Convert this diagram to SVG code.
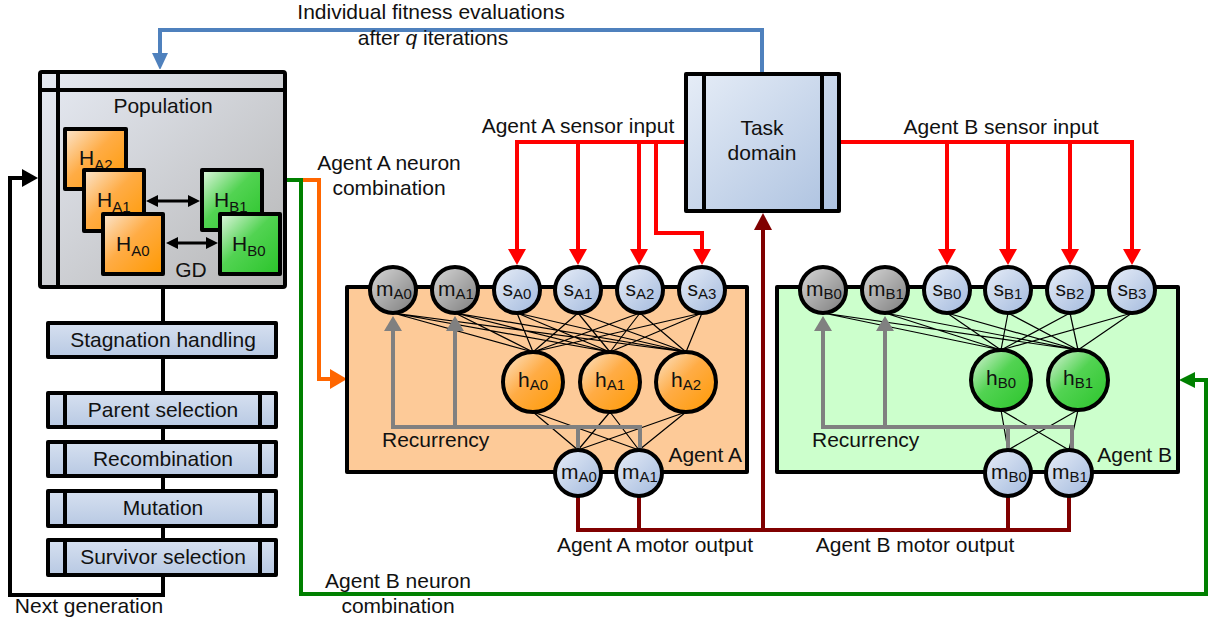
<svg xmlns="http://www.w3.org/2000/svg" width="1211" height="623" viewBox="0 0 1211 623">
<defs>
<style>
text{font-family:"Liberation Sans",Arial,sans-serif;font-size:21px;fill:#111}
.sub{font-size:15px}
.box{stroke:#000;stroke-width:4;stroke-linejoin:round}
.div{stroke:#000;stroke-width:4}
.node{stroke:#000;stroke-width:4}
.w{stroke:#000;stroke-width:1.2;fill:none}
.red{stroke:#ff0000;stroke-width:4;fill:none}
.dred{stroke:#800000;stroke-width:4;fill:none}
.gray{stroke:#808080;stroke-width:4;fill:none}
.blk{stroke:#000;stroke-width:4;fill:none}
.blue{stroke:#4f81bd;stroke-width:4;fill:none}
.grn{stroke:#008000;stroke-width:4;fill:none}
.org{stroke:#ff6600;stroke-width:4;fill:none}
.c{text-anchor:middle}
</style>
<linearGradient id="gPop" x1="0" y1="0" x2="1" y2="1"><stop offset="0" stop-color="#e6eaf3"/><stop offset="1" stop-color="#b6b6b6"/></linearGradient>
<linearGradient id="gBlue" x1="0" y1="0" x2="1" y2="1"><stop offset="0" stop-color="#e6edf7"/><stop offset="1" stop-color="#adc2e0"/></linearGradient>
<linearGradient id="gProc" x1="0" y1="0" x2="0" y2="1"><stop offset="0" stop-color="#d6e0f0"/><stop offset="1" stop-color="#b8c9e3"/></linearGradient>
<linearGradient id="gOr" x1="0" y1="0" x2="1" y2="1"><stop offset="0" stop-color="#fbe6cf"/><stop offset="0.45" stop-color="#ffac45"/><stop offset="1" stop-color="#ff9900"/></linearGradient>
<linearGradient id="gGr" x1="0" y1="0" x2="1" y2="1"><stop offset="0" stop-color="#e2f6e2"/><stop offset="0.45" stop-color="#52d352"/><stop offset="1" stop-color="#2ac42a"/></linearGradient>
<linearGradient id="gGray" x1="0" y1="0" x2="1" y2="1"><stop offset="0" stop-color="#d8d8d8"/><stop offset="1" stop-color="#7c7c7c"/></linearGradient>
<linearGradient id="gLb" x1="0" y1="0" x2="1" y2="1"><stop offset="0" stop-color="#e8eef8"/><stop offset="1" stop-color="#a2b9dd"/></linearGradient>
<marker id="aRed" markerUnits="userSpaceOnUse" markerWidth="18" markerHeight="18" refX="0" refY="9" orient="auto"><path d="M0,0 L16,9 L0,18 z" fill="#ff0000"/></marker>
<marker id="aDred" markerUnits="userSpaceOnUse" markerWidth="18" markerHeight="18" refX="0" refY="9" orient="auto"><path d="M0,0 L17,9 L0,18 z" fill="#800000"/></marker>
<marker id="aGray" markerUnits="userSpaceOnUse" markerWidth="18" markerHeight="18" refX="0" refY="9" orient="auto"><path d="M0,0 L15,9 L0,18 z" fill="#808080"/></marker>
<marker id="aBlk" markerUnits="userSpaceOnUse" markerWidth="18" markerHeight="18" refX="0" refY="9" orient="auto"><path d="M0,0 L16,9 L0,18 z" fill="#000"/></marker>
<marker id="aBlue" markerUnits="userSpaceOnUse" markerWidth="16" markerHeight="16" refX="0" refY="8" orient="auto"><path d="M0,0 L17,8 L0,16 z" fill="#4f81bd"/></marker>
<marker id="aGrn" markerUnits="userSpaceOnUse" markerWidth="16" markerHeight="16" refX="0" refY="8" orient="auto"><path d="M0,0 L16,8 L0,16 z" fill="#008000"/></marker>
<marker id="aOrg" markerUnits="userSpaceOnUse" markerWidth="20" markerHeight="20" refX="0" refY="10" orient="auto"><path d="M0,0 L17,10 L0,20 z" fill="#ff6600"/></marker>
<marker id="aSm" markerUnits="userSpaceOnUse" markerWidth="12" markerHeight="12" refX="0" refY="6" orient="auto-start-reverse"><path d="M0,0 L12,6 L0,12 z" fill="#000"/></marker>
</defs>
<rect width="1211" height="623" fill="#fff"/>

<g id="connectors">
<path class="blue" d="M762,72 V30 H160 V53" marker-end="url(#aBlue)"/>
<path class="org" d="M287,180 H319 V379 H330" marker-end="url(#aOrg)"/>
<path class="grn" d="M287,180 H301 V594 H1206 V380 H1195" marker-end="url(#aGrn)"/>
<path class="blk" d="M163,289 V595 H10 V178 H22" marker-end="url(#aBlk)"/>
<path class="red" d="M684,142 H517 V249" marker-end="url(#aRed)"/>
<path class="red" d="M578,142 V249" marker-end="url(#aRed)"/>
<path class="red" d="M639,142 V249" marker-end="url(#aRed)"/>
<path class="red" d="M656,142 V233 H702 V249" marker-end="url(#aRed)"/>
<path class="red" d="M841,142 H1132 V249" marker-end="url(#aRed)"/>
<path class="red" d="M947,142 V249" marker-end="url(#aRed)"/>
<path class="red" d="M1008,142 V249" marker-end="url(#aRed)"/>
<path class="red" d="M1070,142 V249" marker-end="url(#aRed)"/>
<path class="dred" d="M578,496 V530 H1069 V496 M639,496 V530 M1008,496 V530"/>
<path class="dred" d="M763,530 V230" marker-end="url(#aDred)"/>
</g>

<g id="population">
<rect class="box" x="40" y="72" width="245" height="215" rx="2" fill="url(#gPop)"/>
<line class="div" x1="58" y1="72" x2="58" y2="287"/>
<line class="div" x1="40" y1="90" x2="285" y2="90"/>
<text class="c" x="163" y="113">Population</text>
<g id="HA2"><rect class="box" x="65" y="129" width="61" height="60" fill="url(#gOr)"/><text x="79" y="165">H<tspan class="sub" dy="5">A2</tspan></text></g>
<g id="HA1"><rect class="box" x="84" y="170" width="60" height="61" fill="url(#gOr)"/><text x="97" y="207">H<tspan class="sub" dy="5">A1</tspan></text></g>
<g id="HA0"><rect class="box" x="103" y="214" width="60" height="60" fill="url(#gOr)"/><text x="116" y="251">H<tspan class="sub" dy="5">A0</tspan></text></g>
<g id="HB1"><rect class="box" x="202" y="170" width="60" height="60" fill="url(#gGr)"/><text x="214" y="207">H<tspan class="sub" dy="5">B1</tspan></text></g>
<g id="HB0"><rect class="box" x="220" y="214" width="60" height="60" fill="url(#gGr)"/><text x="232" y="251">H<tspan class="sub" dy="5">B0</tspan></text></g>
<line stroke="#000" stroke-width="3" x1="158" y1="201" x2="188" y2="201" marker-start="url(#aSm)" marker-end="url(#aSm)"/>
<line stroke="#000" stroke-width="3" x1="178" y1="243" x2="206" y2="243" marker-start="url(#aSm)" marker-end="url(#aSm)"/>
<text class="c" x="191" y="277">GD</text>
</g>

<g id="stagnation"><rect class="box" x="48" y="323" width="228" height="34" fill="url(#gProc)"/><text class="c" x="163" y="347">Stagnation handling</text></g>
<g id="parent"><rect class="box" x="48" y="393" width="228" height="34" fill="url(#gProc)"/><line class="div" x1="65" y1="393" x2="65" y2="427"/><line class="div" x1="260" y1="393" x2="260" y2="427"/><text class="c" x="163" y="417">Parent selection</text></g>
<g id="recombination"><rect class="box" x="48" y="442" width="228" height="34" fill="url(#gProc)"/><line class="div" x1="65" y1="442" x2="65" y2="476"/><line class="div" x1="260" y1="442" x2="260" y2="476"/><text class="c" x="163" y="466">Recombination</text></g>
<g id="mutation"><rect class="box" x="48" y="491" width="228" height="35" fill="url(#gProc)"/><line class="div" x1="65" y1="491" x2="65" y2="526"/><line class="div" x1="260" y1="491" x2="260" y2="526"/><text class="c" x="163" y="515">Mutation</text></g>
<g id="survivor"><rect class="box" x="48" y="540" width="228" height="35" fill="url(#gProc)"/><line class="div" x1="65" y1="540" x2="65" y2="575"/><line class="div" x1="260" y1="540" x2="260" y2="575"/><text class="c" x="163" y="564">Survivor selection</text></g>

<g id="task-domain">
<rect class="box" x="686" y="74" width="153" height="137" fill="url(#gBlue)"/>
<line class="div" x1="704" y1="74" x2="704" y2="211"/>
<line class="div" x1="822" y1="74" x2="822" y2="211"/>
<text class="c" x="762" y="135">Task</text>
<text class="c" x="762" y="160">domain</text>
</g>

<g id="agent-a">
<rect class="box" x="347" y="287" width="400" height="185" fill="#fdca98"/>
<path class="w" d="M393,313 L533,352 M393,313 L610,352 M393,313 L686,352 M455,313 L533,352 M455,313 L610,352 M455,313 L686,352 M517,313 L533,352 M517,313 L610,352 M517,313 L686,352 M578,313 L533,352 M578,313 L610,352 M578,313 L686,352 M640,313 L533,352 M640,313 L610,352 M640,313 L686,352 M702,313 L533,352 M702,313 L610,352 M702,313 L686,352 M533,412 L578,450 M533,412 L639,450 M610,412 L578,450 M610,412 L639,450 M686,412 L578,450 M686,412 L639,450"/>
<path class="gray" d="M578,450 V427 H393 V331 M455,427 V331 M640,450 V427 H578" />
<path class="gray" d="M393,340 V331" marker-end="url(#aGray)"/>
<path class="gray" d="M455,340 V331" marker-end="url(#aGray)"/>
<text x="382" y="447">Recurrency</text>
<text x="742" y="462" text-anchor="end">Agent A</text>
<g id="mA0t"><circle class="node" cx="393" cy="290" r="23" fill="url(#gGray)"/><text class="c" x="394" y="296" font-size="20">m<tspan class="sub" dy="3">A0</tspan></text></g>
<g id="mA1t"><circle class="node" cx="455" cy="290" r="23" fill="url(#gGray)"/><text class="c" x="456" y="296" font-size="20">m<tspan class="sub" dy="3">A1</tspan></text></g>
<g id="sA0"><circle class="node" cx="517" cy="290" r="23" fill="url(#gLb)"/><text class="c" x="517" y="296" font-size="20">s<tspan class="sub" dy="3">A0</tspan></text></g>
<g id="sA1"><circle class="node" cx="578" cy="290" r="23" fill="url(#gLb)"/><text class="c" x="578" y="296" font-size="20">s<tspan class="sub" dy="3">A1</tspan></text></g>
<g id="sA2"><circle class="node" cx="640" cy="290" r="23" fill="url(#gLb)"/><text class="c" x="640" y="296" font-size="20">s<tspan class="sub" dy="3">A2</tspan></text></g>
<g id="sA3"><circle class="node" cx="702" cy="290" r="23" fill="url(#gLb)"/><text class="c" x="702" y="296" font-size="20">s<tspan class="sub" dy="3">A3</tspan></text></g>
<g id="hA0"><circle class="node" cx="533" cy="382" r="30" fill="url(#gOr)"/><text class="c" x="533" y="387" font-size="21">h<tspan class="sub" dy="3">A0</tspan></text></g>
<g id="hA1"><circle class="node" cx="610" cy="382" r="30" fill="url(#gOr)"/><text class="c" x="610" y="387" font-size="21">h<tspan class="sub" dy="3">A1</tspan></text></g>
<g id="hA2"><circle class="node" cx="686" cy="382" r="30" fill="url(#gOr)"/><text class="c" x="686" y="387" font-size="21">h<tspan class="sub" dy="3">A2</tspan></text></g>
<g id="mA0b"><circle class="node" cx="578" cy="473" r="23" fill="url(#gLb)"/><text class="c" x="579" y="479" font-size="20">m<tspan class="sub" dy="3">A0</tspan></text></g>
<g id="mA1b"><circle class="node" cx="639" cy="473" r="23" fill="url(#gLb)"/><text class="c" x="640" y="479" font-size="20">m<tspan class="sub" dy="3">A1</tspan></text></g>
</g>

<g id="agent-b">
<rect class="box" x="777" y="287" width="401" height="185" fill="#ccffcc"/>
<path class="w" d="M823,313 L1001,350 M823,313 L1078,350 M885,313 L1001,350 M885,313 L1078,350 M947,313 L1001,350 M947,313 L1078,350 M1008,313 L1001,350 M1008,313 L1078,350 M1070,313 L1001,350 M1070,313 L1078,350 M1132,313 L1001,350 M1132,313 L1078,350 M1001,410 L1008,450 M1001,410 L1069,450 M1078,410 L1008,450 M1078,410 L1069,450"/>
<path class="gray" d="M1008,450 V427 H823 V331 M885,427 V331 M1072,450 V427 H1008"/>
<path class="gray" d="M823,340 V331" marker-end="url(#aGray)"/>
<path class="gray" d="M885,340 V331" marker-end="url(#aGray)"/>
<text x="812" y="447">Recurrency</text>
<text x="1172" y="462" text-anchor="end">Agent B</text>
<g id="mB0t"><circle class="node" cx="823" cy="290" r="23" fill="url(#gGray)"/><text class="c" x="824" y="296" font-size="20">m<tspan class="sub" dy="3">B0</tspan></text></g>
<g id="mB1t"><circle class="node" cx="885" cy="290" r="23" fill="url(#gGray)"/><text class="c" x="886" y="296" font-size="20">m<tspan class="sub" dy="3">B1</tspan></text></g>
<g id="sB0"><circle class="node" cx="947" cy="290" r="23" fill="url(#gLb)"/><text class="c" x="947" y="296" font-size="20">s<tspan class="sub" dy="3">B0</tspan></text></g>
<g id="sB1"><circle class="node" cx="1008" cy="290" r="23" fill="url(#gLb)"/><text class="c" x="1008" y="296" font-size="20">s<tspan class="sub" dy="3">B1</tspan></text></g>
<g id="sB2"><circle class="node" cx="1070" cy="290" r="23" fill="url(#gLb)"/><text class="c" x="1070" y="296" font-size="20">s<tspan class="sub" dy="3">B2</tspan></text></g>
<g id="sB3"><circle class="node" cx="1132" cy="290" r="23" fill="url(#gLb)"/><text class="c" x="1132" y="296" font-size="20">s<tspan class="sub" dy="3">B3</tspan></text></g>
<g id="hB0"><circle class="node" cx="1001" cy="380" r="30" fill="url(#gGr)"/><text class="c" x="1001" y="385" font-size="21">h<tspan class="sub" dy="3">B0</tspan></text></g>
<g id="hB1"><circle class="node" cx="1078" cy="380" r="30" fill="url(#gGr)"/><text class="c" x="1078" y="385" font-size="21">h<tspan class="sub" dy="3">B1</tspan></text></g>
<g id="mB0b"><circle class="node" cx="1008" cy="473" r="23" fill="url(#gLb)"/><text class="c" x="1009" y="479" font-size="20">m<tspan class="sub" dy="3">B0</tspan></text></g>
<g id="mB1b"><circle class="node" cx="1069" cy="473" r="23" fill="url(#gLb)"/><text class="c" x="1070" y="479" font-size="20">m<tspan class="sub" dy="3">B1</tspan></text></g>
</g>

<g id="labels">
<text class="c" x="431" y="19">Individual fitness evaluations</text>
<text class="c" x="433" y="45">after <tspan font-style="italic">q</tspan> iterations</text>
<text class="c" x="578" y="133">Agent A sensor input</text>
<text class="c" x="1001" y="134">Agent B sensor input</text>
<text class="c" x="389" y="170">Agent A neuron</text>
<text class="c" x="389" y="195">combination</text>
<text class="c" x="398" y="588">Agent B neuron</text>
<text class="c" x="398" y="613">combination</text>
<text class="c" x="655" y="552">Agent A motor output</text>
<text class="c" x="915" y="552">Agent B motor output</text>
<text class="c" x="89" y="613">Next generation</text>
</g>
</svg>
